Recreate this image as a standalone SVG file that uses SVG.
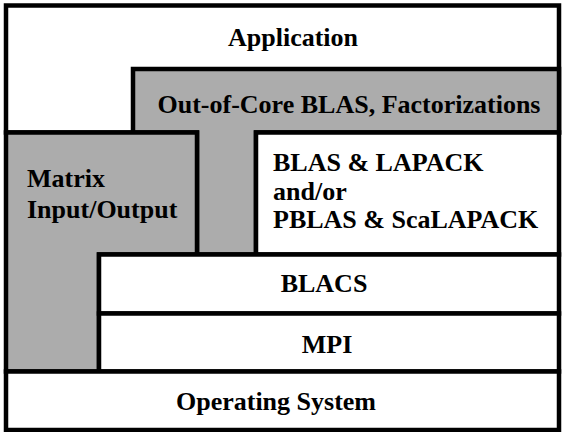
<svg xmlns="http://www.w3.org/2000/svg" width="562" height="432" viewBox="0 0 562 432">
  <style>
    .box { stroke: #000; stroke-width: 4.5; stroke-linejoin: miter; }
    .white { fill: #fff; }
    .gray { fill: #acacac; }
    .label { font-family: "Liberation Serif", "Times New Roman", serif; font-weight: bold; font-size: 26px; fill: #000; }
    .mid { text-anchor: middle; }
  </style>
  <rect width="562" height="432" fill="#fff"/>

  <g id="application">
    <rect class="box white" x="6" y="5.5" width="553" height="127"/>
    <text class="label mid" x="293" y="46">Application</text>
  </g>

  <g id="out-of-core">
    <polygon class="box gray" points="133,69 559,69 559,132.5 256,132.5 256,254.5 197,254.5 197,132.5 133,132.5"/>
    <text class="label mid" x="349" y="113">Out-of-Core BLAS, Factorizations</text>
  </g>

  <g id="matrix-io">
    <polygon class="box gray" points="6,132.5 197,132.5 197,254.5 99,254.5 99,371.5 6,371.5"/>
    <text class="label" x="27" y="187">Matrix</text>
    <text class="label" x="27" y="218">Input/Output</text>
  </g>

  <g id="blas-lapack">
    <rect class="box white" x="256" y="132.5" width="303" height="122"/>
    <text class="label" x="273" y="171">BLAS &amp; LAPACK</text>
    <text class="label" x="273" y="200">and/or</text>
    <text class="label" x="273" y="228">PBLAS &amp; ScaLAPACK</text>
  </g>

  <g id="blacs">
    <rect class="box white" x="99" y="254.5" width="460" height="59"/>
    <text class="label mid" x="324" y="292">BLACS</text>
  </g>

  <g id="mpi">
    <rect class="box white" x="99" y="313.5" width="460" height="58"/>
    <text class="label mid" x="327" y="353">MPI</text>
  </g>

  <g id="operating-system">
    <rect class="box white" x="6" y="371.5" width="553" height="58.5"/>
    <text class="label mid" x="276" y="410">Operating System</text>
  </g>

  <g id="connectors"/>
</svg>
